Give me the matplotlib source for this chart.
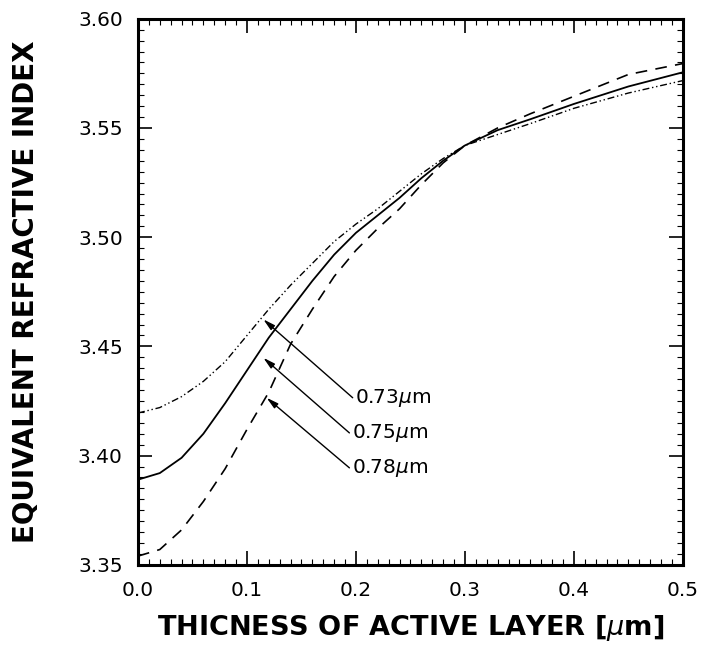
import matplotlib
matplotlib.use('Agg')
import matplotlib.pyplot as plt
from matplotlib.ticker import MultipleLocator, FormatStrFormatter

# thickness of active layer [um]
thickness = [0.00, 0.02, 0.04, 0.06, 0.08, 0.10, 0.12, 0.14, 0.16, 0.18, 0.20,
             0.22, 0.24, 0.26, 0.28, 0.30, 0.33, 0.36, 0.40, 0.45, 0.50]

# equivalent refractive index per wavelength
n_073 = [3.4195, 3.422, 3.427, 3.434, 3.443, 3.455, 3.467, 3.478, 3.488, 3.498, 3.506,
         3.513, 3.521, 3.529, 3.536, 3.542, 3.547, 3.552, 3.559, 3.566, 3.5717]
n_075 = [3.389, 3.392, 3.399, 3.410, 3.424, 3.439, 3.454, 3.467, 3.480, 3.492, 3.502,
         3.510, 3.518, 3.527, 3.535, 3.542, 3.549, 3.554, 3.561, 3.569, 3.5755]
n_078 = [3.354, 3.357, 3.366, 3.379, 3.394, 3.412, 3.429, 3.451, 3.467, 3.482, 3.494,
         3.504, 3.513, 3.524, 3.534, 3.542, 3.550, 3.5565, 3.5645, 3.5745, 3.5795]

labels = ['0.73$\\mu$m', '0.75$\\mu$m', '0.78$\\mu$m']
arrow_tips = [(0.115, 3.4624), (0.115, 3.4448), (0.118, 3.4265)]
text_pos = [(0.197, 3.4265), (0.194, 3.4104), (0.194, 3.3944)]

fig = plt.figure(figsize=(7.04, 6.47), dpi=100)
ax = fig.add_axes([0.196, 0.127, 0.774, 0.844])

ax.plot(thickness, n_073, color='black', lw=1.0, dashes=(5, 2, 1, 2, 1, 2))
ax.plot(thickness, n_075, color='black', lw=1.3)
ax.plot(thickness, n_078, color='black', lw=1.2, dashes=(7, 5))

for lab, tip, pos in zip(labels, arrow_tips, text_pos):
    ax.annotate('', xy=tip, xytext=pos,
                arrowprops=dict(arrowstyle='-|>,head_length=0.7,head_width=0.18',
                                color='black', lw=1.0, shrinkA=0, shrinkB=0))
    ax.text(pos[0] + 0.002, pos[1], lab, fontsize=14.5, ha='left', va='center')

ax.set_xlim(0, 0.5)
ax.set_ylim(3.35, 3.60)
ax.xaxis.set_major_locator(MultipleLocator(0.1))
ax.xaxis.set_minor_locator(MultipleLocator(0.01))
ax.yaxis.set_major_locator(MultipleLocator(0.05))
ax.yaxis.set_minor_locator(MultipleLocator(0.005))
ax.xaxis.set_major_formatter(FormatStrFormatter('%.1f'))
ax.yaxis.set_major_formatter(FormatStrFormatter('%.2f'))

ax.tick_params(which='both', direction='in', top=True, right=True, labelsize=14.5)
ax.tick_params(which='major', length=10, width=1.2)
ax.tick_params(which='minor', length=4, width=0.8)
ax.tick_params(axis='x', pad=12)
ax.tick_params(axis='y', pad=11)
for s in ax.spines.values():
    s.set_linewidth(2.2)

ax.set_xlabel('THICNESS OF ACTIVE LAYER [$\\mu$m]', fontsize=19.5, fontweight='bold', va='center')
ax.xaxis.set_label_coords(0.5, -0.116)
ax.set_ylabel('EQUIVALENT REFRACTIVE INDEX', fontsize=20, fontweight='bold', va='center')
ax.yaxis.set_label_coords(-0.205, 0.5)

fig.savefig('out.png', dpi=100)
